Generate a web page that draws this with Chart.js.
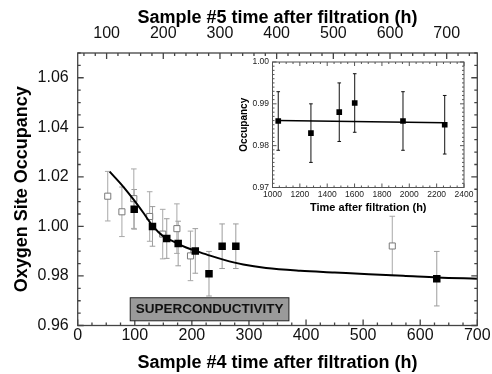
<!DOCTYPE html>
<html>
<head>
<meta charset="utf-8">
<script src="https://cdn.jsdelivr.net/npm/chart.js@4.4.1/dist/chart.umd.min.js"></script>
<style>
  body { margin: 0; background: #fff; }
  #wrap { position: relative; width: 492px; height: 374px; }
  #main { position: absolute; left: 0; top: 0; }
  #inset { position: absolute; left: 230px; top: 50px; }
</style>
</head>
<body>
<div id="wrap">
  <canvas id="main" width="492" height="374"></canvas>
  <canvas id="inset" width="245" height="165"></canvas>
</div>
<script>
// sample #4 - filled squares, bottom axis
const s4Time = [99, 131, 156, 176, 206, 230, 253, 277, 629];
const s4Occ  = [1.0069, 1.0000, 0.9951, 0.9931, 0.9901, 0.9809, 0.9920, 0.9920, 0.9789];
const s4Err  = [0.008, 0.008, 0.008, 0.009, 0.009, 0.009, 0.009, 0.009, 0.011];

// sample #5 - open squares, top axis
const s5Time = [102, 127, 148, 176, 199, 224, 248, 604];
const s5Occ  = [1.0122, 1.0059, 1.0112, 1.0040, 0.9969, 0.9991, 0.9881, 0.9921];
const s5Err  = [0.010, 0.010, 0.012, 0.010, 0.010, 0.010, 0.010, 0.012];

// fitted curve
const fitTime = [56, 80, 98, 115, 132, 150, 170, 190, 210, 232, 255, 290, 330, 390, 450, 510, 570, 630, 700];
const fitOcc  = [1.0221, 1.0160, 1.0108, 1.0055, 1.0000, 0.9960, 0.9937, 0.9915, 0.9899, 0.9882,
                 0.9866, 0.9846, 0.9832, 0.9821, 0.9814, 0.9807, 0.9801, 0.9794, 0.9789];

// inset
const insetTime = [1042, 1281, 1488, 1601, 1954, 2259];
const insetOcc  = [0.9859, 0.9830, 0.9880, 0.9902, 0.9859, 0.9850];
const insetErr  = [0.007, 0.007, 0.007, 0.007, 0.007, 0.007];
const insetFitTime = [1042, 2259];
const insetFitOcc  = [0.9860, 0.9855];

// tick labels
const xTicks  = [0, 100, 200, 300, 400, 500, 600, 700];
const x2Ticks = [100, 200, 300, 400, 500, 600, 700];
const yTicks  = [0.96, 0.98, 1.00, 1.02, 1.04, 1.06];
const insetXTicks = [1000, 1200, 1400, 1600, 1800, 2000, 2200, 2400];
const insetYTicks = [0.97, 0.98, 0.99, 1.00];

const FONT = '"Liberation Sans", Arial, Helvetica, sans-serif';

const pts = (xs, ys) => xs.map((x, i) => ({ x, y: ys[i] }));
const fixedTicks = list => scale => { scale.ticks = list.map(v => ({ value: v })); };

function tickRange(min, max, step) {
  const out = [];
  for (let v = Math.ceil(min / step - 1e-9) * step; v <= max + 1e-9; v += step) out.push(+v.toFixed(6));
  return out;
}

// frame + inward ticks on every side
const framePlugin = {
  id: 'frame',
  afterDatasetsDraw(chart, args, opts) {
    const { ctx, chartArea: a } = chart;
    ctx.save();
    ctx.strokeStyle = opts.color;
    ctx.lineWidth = opts.width;
    ctx.beginPath();
    opts.ticks.forEach(t => {
      const s = chart.scales[t.scale];
      tickRange(s.min, s.max, t.step).forEach(v => {
        const r = v / t.major;
        const len = Math.abs(r - Math.round(r)) < 1e-6 ? opts.major : opts.minor;
        const p = s.getPixelForValue(v);
        t.sides.forEach(side => {
          if (side === 'bottom') { ctx.moveTo(p, a.bottom); ctx.lineTo(p, a.bottom - len); }
          if (side === 'top') { ctx.moveTo(p, a.top); ctx.lineTo(p, a.top + len); }
          if (side === 'left') { ctx.moveTo(a.left, p); ctx.lineTo(a.left + len, p); }
          if (side === 'right') { ctx.moveTo(a.right, p); ctx.lineTo(a.right - len, p); }
        });
      });
    });
    ctx.stroke();
    ctx.strokeRect(a.left, a.top, a.right - a.left, a.bottom - a.top);
    ctx.restore();
  }
};

const errorBarPlugin = {
  id: 'errorBars',
  beforeDatasetsDraw(chart) {
    const ctx = chart.ctx;
    chart.data.datasets.forEach((ds, i) => {
      if (!ds.errors) return;
      const meta = chart.getDatasetMeta(i);
      const ys = chart.scales[meta.yAxisID];
      ctx.save();
      ctx.strokeStyle = ds.errorColor;
      ctx.lineWidth = 1;
      ctx.beginPath();
      meta.data.forEach((el, j) => {
        const v = ds.data[j].y, e = ds.errors[j];
        const y1 = ys.getPixelForValue(v + e), y2 = ys.getPixelForValue(v - e);
        const c = ds.capWidth;
        ctx.moveTo(el.x, y1); ctx.lineTo(el.x, y2);
        ctx.moveTo(el.x - c, y1); ctx.lineTo(el.x + c, y1);
        ctx.moveTo(el.x - c, y2); ctx.lineTo(el.x + c, y2);
      });
      ctx.stroke();
      ctx.restore();
    });
  }
};

const labelBoxPlugin = {
  id: 'labelBox',
  afterDatasetsDraw(chart, args, opts) {
    if (!opts.text) return;
    const { ctx, scales } = chart;
    const x1 = scales.x.getPixelForValue(opts.x[0]), x2 = scales.x.getPixelForValue(opts.x[1]);
    const y1 = scales.y.getPixelForValue(opts.y[1]), y2 = scales.y.getPixelForValue(opts.y[0]);
    ctx.save();
    ctx.fillStyle = '#9a9a9a';
    ctx.strokeStyle = '#222';
    ctx.lineWidth = 1;
    ctx.fillRect(x1, y1, x2 - x1, y2 - y1);
    ctx.strokeRect(x1, y1, x2 - x1, y2 - y1);
    ctx.fillStyle = '#111';
    ctx.font = 'bold 13.5px ' + FONT;
    ctx.textAlign = 'center';
    ctx.textBaseline = 'middle';
    ctx.fillText(opts.text, (x1 + x2) / 2, (y1 + y2) / 2 + 0.5);
    ctx.restore();
  }
};

function axis(extra) {
  return Object.assign({
    type: 'linear',
    grid: { display: false, drawTicks: false },
    border: { display: false },
  }, extra);
}

// ========== main chart ==========
new Chart(document.getElementById('main'), {
  type: 'scatter',
  data: {
    datasets: [{
      data: pts(s4Time, s4Occ),
      errors: s4Err, errorColor: '#9d9d9d', capWidth: 2.8,
      xAxisID: 'x', yAxisID: 'y',
      pointStyle: 'rect', pointRadius: 5.3, backgroundColor: '#000', borderColor: '#000', borderWidth: 0
    }, {
      data: pts(fitTime, fitOcc),
      xAxisID: 'x', yAxisID: 'y',
      showLine: true, cubicInterpolationMode: 'monotone',
      borderColor: '#000', borderWidth: 2, pointRadius: 0
    }, {
      data: pts(s5Time, s5Occ),
      errors: s5Err, errorColor: '#a8a8a8', capWidth: 2.8,
      xAxisID: 'x2', yAxisID: 'y',
      pointStyle: 'rect', pointRadius: 4.3, backgroundColor: '#fff', borderColor: '#7a7a7a', borderWidth: 1
    }]
  },
  options: {
    responsive: false,
    animation: false,
    devicePixelRatio: 1,
    layout: { padding: { left: 0, right: 14.7, top: 0, bottom: 0 } },
    plugins: {
      legend: { display: false },
      tooltip: { enabled: false },
      frame: {
        color: '#444', width: 1.3, major: 6, minor: 3,
        ticks: [
          { scale: 'x', step: 25, major: 100, sides: ['bottom'] },
          { scale: 'x2', step: 20, major: 100, sides: ['top'] },
          { scale: 'y', step: 0.005, major: 0.02, sides: ['left', 'right'] }
        ]
      },
      labelBox: { text: 'SUPERCONDUCTIVITY', x: [92, 370], y: [0.9619, 0.9712] }
    },
    scales: {
      x: axis({
        position: 'bottom', min: 0, max: 700,
        afterBuildTicks: fixedTicks(xTicks),
        afterFit: s => { s.height = 48.5; s.paddingLeft = 0; s.paddingRight = 0; },
        ticks: { padding: 0, color: '#111', font: { family: FONT, size: 16 }, maxRotation: 0, autoSkip: false,
                 callback: v => String(v) },
        title: { display: true, text: 'Sample #4 time after filtration (h)', color: '#000',
                 font: { family: FONT, size: 18, weight: 'bold' }, padding: { top: 0, bottom: 0 } }
      }),
      x2: axis({
        position: 'top', min: 49, max: 754,
        afterBuildTicks: fixedTicks(x2Ticks),
        afterFit: s => { s.height = 53; s.paddingLeft = 0; s.paddingRight = 0; },
        ticks: { padding: 10, color: '#111', font: { family: FONT, size: 16 }, maxRotation: 0, autoSkip: false,
                 callback: v => String(v) },
        title: { display: true, text: 'Sample #5 time after filtration (h)', color: '#000',
                 font: { family: FONT, size: 18, weight: 'bold' }, padding: { top: 7.7, bottom: 0 } }
      }),
      y: axis({
        position: 'left', min: 0.96, max: 1.07,
        afterBuildTicks: fixedTicks(yTicks),
        afterFit: s => { s.width = 77.7; s.paddingTop = 0; s.paddingBottom = 0; },
        ticks: { padding: 9, color: '#111', font: { family: FONT, size: 16 }, callback: v => v.toFixed(2) },
        title: { display: true, text: 'Oxygen Site Occupancy', color: '#000',
                 font: { family: FONT, size: 18, weight: 'bold' }, padding: { top: 11, bottom: 0 } }
      })
    }
  },
  plugins: [errorBarPlugin, framePlugin, labelBoxPlugin]
});

// ========== inset ==========
new Chart(document.getElementById('inset'), {
  type: 'scatter',
  data: {
    datasets: [{
      data: pts(insetTime, insetOcc),
      errors: insetErr, errorColor: '#111', capWidth: 1.8,
      pointStyle: 'rect', pointRadius: 4, backgroundColor: '#000', borderColor: '#000', borderWidth: 0
    }, {
      data: pts(insetFitTime, insetFitOcc),
      showLine: true, borderColor: '#000', borderWidth: 1.5, pointRadius: 0
    }]
  },
  options: {
    responsive: false,
    animation: false,
    devicePixelRatio: 1,
    layout: { padding: { left: 0, right: 11, top: 12, bottom: 0 } },
    plugins: {
      legend: { display: false },
      tooltip: { enabled: false },
      frame: {
        color: '#555', width: 1, major: 4, minor: 2,
        ticks: [
          { scale: 'x', step: 50, major: 200, sides: ['bottom', 'top'] },
          { scale: 'y', step: 0.001, major: 0.01, sides: ['left', 'right'] }
        ]
      }
    },
    scales: {
      x: axis({
        position: 'bottom', min: 1000, max: 2400,
        afterBuildTicks: fixedTicks(insetXTicks),
        afterFit: s => { s.height = 27.5; s.paddingLeft = 0; s.paddingRight = 0; },
        ticks: { padding: 2.4, color: '#222', font: { family: FONT, size: 8.5 }, maxRotation: 0, autoSkip: false,
                 callback: v => String(v) },
        title: { display: true, text: 'Time after filtration (h)', color: '#000',
                 font: { family: FONT, size: 11, weight: 'bold' }, padding: { top: 0, bottom: 0 } }
      }),
      y: axis({
        position: 'left', min: 0.97, max: 1.00,
        afterBuildTicks: fixedTicks(insetYTicks),
        afterFit: s => { s.width = 42.5; s.paddingTop = 0; s.paddingBottom = 0; },
        ticks: { padding: 3.5, color: '#222', font: { family: FONT, size: 8.5 }, callback: v => v.toFixed(2) },
        title: { display: true, text: 'Occupancy', color: '#000',
                 font: { family: FONT, size: 10, weight: 'bold' }, padding: { top: 8, bottom: 0 } }
      })
    }
  },
  plugins: [errorBarPlugin, framePlugin]
});
</script>
</body>
</html>
